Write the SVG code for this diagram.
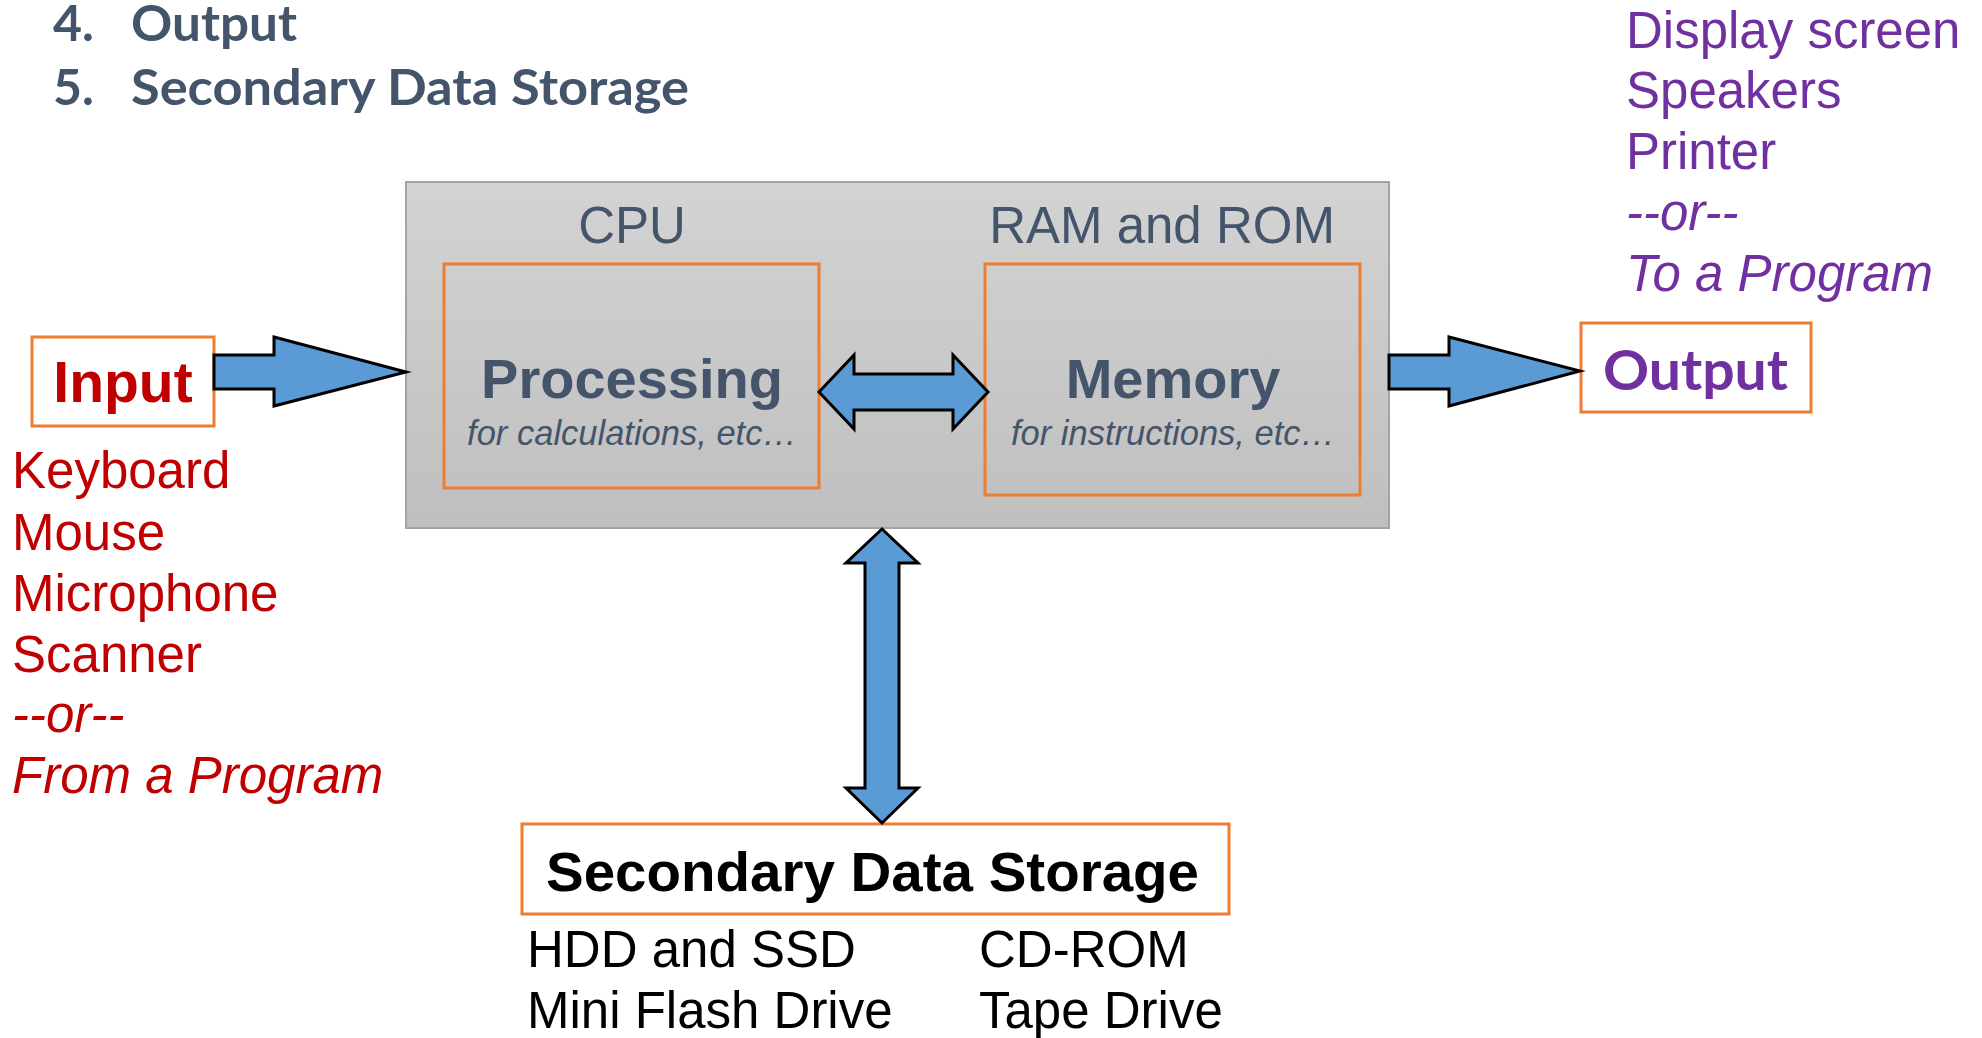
<svg xmlns="http://www.w3.org/2000/svg" width="1982" height="1038" viewBox="0 0 1982 1038">
  <defs>
    <linearGradient id="cpuFill" x1="0" y1="0" x2="0" y2="1">
      <stop offset="0" stop-color="#d3d3d3"/>
      <stop offset="1" stop-color="#bfbfbf"/>
    </linearGradient>
    <style>
      .heading { font-family: Lato, "Open Sans", "Liberation Sans", sans-serif; font-weight: 700; font-size: 50px; fill: #44546a; }
      .box { fill: none; stroke: #ed7d31; stroke-width: 3; }
      .whitebox { fill: #ffffff; stroke: #ed7d31; stroke-width: 3; }
      .arrow { fill: #5b9bd5; stroke: #000000; stroke-width: 3; stroke-linejoin: miter; }
      .sans { font-family: "Liberation Sans", Arial, sans-serif; }
      .label { font-family: "Liberation Sans", Arial, sans-serif; font-size: 51px; fill: #44546a; }
      .title { font-family: "Liberation Sans", Arial, sans-serif; font-weight: 700; font-size: 56px; fill: #44546a; }
      .sub { font-family: "Liberation Sans", Arial, sans-serif; font-style: italic; font-size: 34.5px; fill: #44546a; }
      .red { font-family: "Liberation Sans", Arial, sans-serif; font-size: 51px; fill: #c00000; }
      .purple { font-family: "Liberation Sans", Arial, sans-serif; font-size: 51px; fill: #7030a0; }
      .black { font-family: "Liberation Sans", Arial, sans-serif; font-size: 51px; fill: #000000; }
      .it { font-style: italic; }
    </style>
  </defs>

  <rect width="1982" height="1038" fill="#ffffff"/>

  <!-- numbered list heading -->
  <g id="heading">
    <text class="heading" x="53" y="41">4.</text>
    <text class="heading" x="131" y="41" textLength="166" lengthAdjust="spacingAndGlyphs">Output</text>
    <text class="heading" x="53" y="105">5.</text>
    <text class="heading" x="131" y="105" textLength="558" lengthAdjust="spacingAndGlyphs">Secondary Data Storage</text>
  </g>

  <!-- CPU / main memory enclosure -->
  <g id="cpu">
    <rect x="406" y="182" width="983" height="346" fill="url(#cpuFill)" stroke="#a3a3a3" stroke-width="2"/>
    <text class="label" x="632" y="243" text-anchor="middle">CPU</text>
    <text class="label" x="1162" y="243" text-anchor="middle">RAM and ROM</text>
  </g>

  <g id="processing">
    <rect class="box" x="444" y="264" width="375" height="224"/>
    <text class="title" x="632" y="398" text-anchor="middle">Processing</text>
    <text class="sub" x="632" y="445" text-anchor="middle">for calculations, etc…</text>
  </g>

  <g id="memory">
    <rect class="box" x="985" y="264" width="375" height="231"/>
    <text class="title" x="1173" y="398" text-anchor="middle">Memory</text>
    <text class="sub" x="1173" y="445" text-anchor="middle">for instructions, etc…</text>
  </g>

  <!-- input device -->
  <g id="input">
    <rect class="whitebox" x="32" y="337" width="182" height="89"/>
    <text class="sans" x="123" y="402" text-anchor="middle" font-size="57" font-weight="700" fill="#c00000">Input</text>
    <text class="red" x="12" y="488">Keyboard</text>
    <text class="red" x="12" y="550">Mouse</text>
    <text class="red" x="12" y="611">Microphone</text>
    <text class="red" x="12" y="672">Scanner</text>
    <text class="red it" x="12" y="732">--or--</text>
    <text class="red it" x="12" y="793">From a Program</text>
  </g>

  <!-- output device -->
  <g id="output">
    <rect class="whitebox" x="1581" y="323" width="230" height="89"/>
    <text x="1603" y="390" font-family="Lato, 'Open Sans', 'Liberation Sans', sans-serif" font-weight="700" font-size="56" fill="#7030a0" textLength="185" lengthAdjust="spacingAndGlyphs">Output</text>
    <text class="purple" x="1626" y="48">Display screen</text>
    <text class="purple" x="1626" y="108">Speakers</text>
    <text class="purple" x="1626" y="169">Printer</text>
    <text class="purple it" x="1626" y="230">--or--</text>
    <text class="purple it" x="1626" y="291">To a Program</text>
  </g>

  <!-- secondary storage -->
  <g id="storage">
    <rect class="whitebox" x="522" y="824" width="707" height="90"/>
    <text class="sans" x="546" y="891" font-size="56" font-weight="700" fill="#000000" textLength="653" lengthAdjust="spacingAndGlyphs">Secondary Data Storage</text>
    <text class="black" x="527" y="967">HDD and SSD</text>
    <text class="black" x="527" y="1028">Mini Flash Drive</text>
    <text class="black" x="979" y="967">CD-ROM</text>
    <text class="black" x="979" y="1028">Tape Drive</text>
  </g>

  <!-- block arrows -->
  <g id="connectors">
    <path class="arrow" d="M214,355 H274 V337 L406,372 L274,406 V389 H214 Z"/>
    <path class="arrow" d="M1389,355 H1449 V337 L1580,371 L1449,406 V389 H1389 Z"/>
    <path class="arrow" d="M819,392 L854,355 V374 H953 V355 L988,392 L953,429 V410 H854 V429 Z"/>
    <path class="arrow" d="M882,529 L918,563 H899 V788 H918 L882,823 L846,788 H865 V563 H846 Z"/>
  </g>
</svg>
